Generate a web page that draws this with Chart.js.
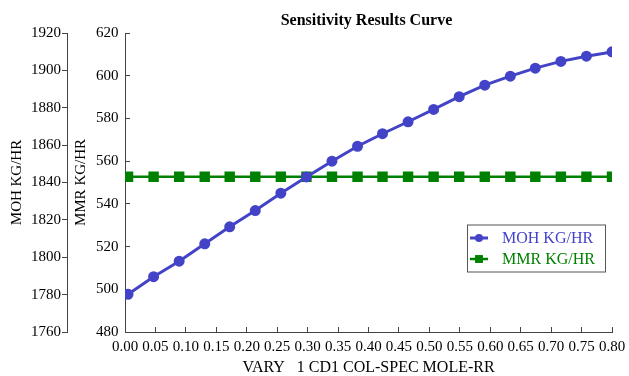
<!DOCTYPE html>
<html>
<head>
<meta charset="utf-8">
<script src="https://cdn.jsdelivr.net/npm/chart.js@4.4.0/dist/chart.umd.min.js"></script>
<style>
  html, body { margin: 0; padding: 0; background: #fff; }
  #wrap { width: 629px; height: 376px; }
</style>
</head>
<body>
<div id="wrap"><canvas id="sensChart"></canvas></div>
<script>
// Sensitivity run: 20 cases of the varied column spec
const varyValues = [0.005, 0.047, 0.089, 0.131, 0.172, 0.214, 0.256, 0.298, 0.340, 0.382,
                    0.423, 0.465, 0.507, 0.549, 0.591, 0.633, 0.674, 0.716, 0.758, 0.800];
const mohValues = [1780.2, 1789.6, 1797.9, 1807.2, 1816.3, 1825.0, 1834.3, 1843.0, 1851.4, 1859.4,
                   1866.1, 1872.5, 1879.1, 1885.9, 1892.1, 1896.9, 1901.2, 1904.8, 1907.6, 1909.9];
const mmrValues = [552.7, 552.7, 552.7, 552.7, 552.7, 552.7, 552.7, 552.7, 552.7, 552.7,
                   552.7, 552.7, 552.7, 552.7, 552.7, 552.7, 552.7, 552.7, 552.7, 552.7];

const xTickValues = [0, 0.05, 0.10, 0.15, 0.20, 0.25, 0.30, 0.35, 0.40,
                     0.45, 0.50, 0.55, 0.60, 0.65, 0.70, 0.75, 0.80];
const mohTickValues = [1760, 1780, 1800, 1820, 1840, 1860, 1880, 1900, 1920];
const mmrTickValues = [480, 500, 520, 540, 560, 580, 600, 620];

const chartTitle = 'Sensitivity Results Curve';
const xTitle = 'VARY   1 CD1 COL-SPEC MOLE-RR';

const SERIF = '"Liberation Serif", "Times New Roman", serif';
const AXIS_COLOR = '#444';
const BLUE = '#4343C8';
const GREEN = '#008000';

Chart.defaults.font.family = SERIF;
Chart.defaults.color = '#000';

function fixedTicks(values) {
    return scale => { scale.ticks = values.map(v => ({ value: v })); };
}

// title over the plot area plus the boxed key inside it
const headerAndKey = {
    id: 'headerAndKey',
    afterDraw(chart) {
        const ctx = chart.ctx;
        const area = chart.chartArea;
        ctx.save();
        ctx.font = 'bold 16px ' + SERIF;
        ctx.fillStyle = '#000';
        ctx.textAlign = 'center';
        ctx.textBaseline = 'middle';
        ctx.fillText(chartTitle, (area.left + area.right) / 2 - 2, 21);

        const boxW = 138, boxH = 47;
        const bx = area.right - 7 - boxW;
        const by = area.top + 191.5;
        ctx.fillStyle = '#fff';
        ctx.fillRect(bx, by, boxW, boxH);
        ctx.strokeStyle = '#555';
        ctx.lineWidth = 1;
        ctx.strokeRect(bx + 0.5, by + 0.5, boxW, boxH);

        ctx.font = '16px ' + SERIF;
        ctx.textAlign = 'left';
        chart.data.datasets.forEach((ds, i) => {
            const y = by + 13.5 + i * 21;
            ctx.strokeStyle = ds.borderColor;
            ctx.lineWidth = ds.borderWidth;
            ctx.beginPath();
            ctx.moveTo(bx + 3, y);
            ctx.lineTo(bx + 21, y);
            ctx.stroke();
            ctx.fillStyle = ds.pointBackgroundColor;
            Chart.helpers.drawPoint(ctx, {
                pointStyle: ds.pointStyle,
                radius: ds.pointRadius,
                rotation: 0,
                borderWidth: 0
            }, bx + 12, y);
            ctx.fillStyle = ds.borderColor;
            ctx.fillText(ds.label, bx + 35, y + 1);
        });
        ctx.restore();
    }
};

new Chart(document.getElementById('sensChart'), {
    type: 'line',
    data: {
        datasets: [
            {
                label: 'MOH KG/HR',
                data: varyValues.map((x, i) => ({ x: x, y: mohValues[i] })),
                yAxisID: 'moh',
                borderColor: BLUE,
                backgroundColor: BLUE,
                pointBackgroundColor: BLUE,
                pointBorderColor: BLUE,
                pointStyle: 'circle',
                pointRadius: 4,
                borderWidth: 3,
                tension: 0
            },
            {
                label: 'MMR KG/HR',
                data: varyValues.map((x, i) => ({ x: x, y: mmrValues[i] })),
                yAxisID: 'mmr',
                borderColor: GREEN,
                backgroundColor: GREEN,
                pointBackgroundColor: GREEN,
                pointBorderColor: GREEN,
                pointStyle: 'rect',
                pointRadius: 5.6,
                borderWidth: 2.5,
                tension: 0
            }
        ]
    },
    options: {
        responsive: true,
        maintainAspectRatio: false,
        animation: false,
        layout: { padding: { top: 33, right: 17, bottom: 0, left: 0 } },
        plugins: {
            legend: { display: false },
            tooltip: { enabled: false },
            title: { display: false }
        },
        scales: {
            x: {
                type: 'linear',
                min: 0,
                max: 0.8,
                afterBuildTicks: fixedTicks(xTickValues),
                afterFit: s => { s.height = 44; s.paddingLeft = 0; s.paddingRight = 0; },
                grid: { drawOnChartArea: false, tickLength: -5, color: AXIS_COLOR },
                border: { color: AXIS_COLOR, width: 1 },
                ticks: {
                    autoSkip: false,
                    maxRotation: 0,
                    padding: 11,
                    font: { size: 15 },
                    callback: v => v.toFixed(2)
                },
                title: {
                    display: true,
                    text: xTitle,
                    font: { size: 16, lineHeight: 1 },
                    padding: { top: 0, bottom: 0 }
                }
            },
            moh: {
                type: 'linear',
                position: 'left',
                weight: 1,
                min: 1760,
                max: 1920,
                afterBuildTicks: fixedTicks(mohTickValues),
                afterFit: s => { s.width = 67; s.paddingTop = 0; s.paddingBottom = 0; },
                grid: { drawOnChartArea: false, tickLength: 5, color: AXIS_COLOR },
                border: { color: AXIS_COLOR, width: 1 },
                ticks: { padding: 1, font: { size: 15 }, callback: v => String(v) },
                title: {
                    display: true,
                    text: 'MOH KG/HR',
                    font: { size: 15 },
                    padding: { top: 8.5, bottom: 0 }
                }
            },
            mmr: {
                type: 'linear',
                position: 'left',
                weight: 0,
                min: 480,
                max: 620,
                afterBuildTicks: fixedTicks(mmrTickValues),
                afterFit: s => { s.width = 58; s.paddingTop = 0; s.paddingBottom = 0; },
                grid: { drawOnChartArea: false, tickLength: -5, color: AXIS_COLOR },
                border: { color: AXIS_COLOR, width: 1 },
                ticks: { padding: 11.5, font: { size: 15 }, callback: v => String(v) },
                title: {
                    display: true,
                    text: 'MMR KG/HR',
                    font: { size: 15 },
                    padding: { top: 5, bottom: 0 }
                }
            }
        }
    },
    plugins: [headerAndKey]
});
</script>
</body>
</html>
